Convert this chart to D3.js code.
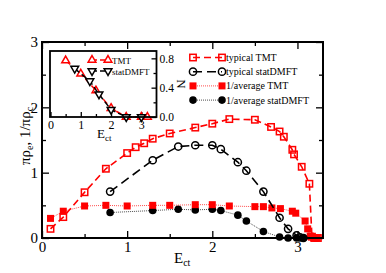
<!DOCTYPE html>
<html>
<head>
<meta charset="utf-8">
<script src="https://cdn.jsdelivr.net/npm/d3@7"></script>
<style>
  body { margin: 0; background: #fff; }
  .axis path { display: none; }
  .axis line { stroke: #000; stroke-width: 1.3; }
</style>
</head>
<body>
<div id="chart"></div>
<script>
// main panel data
var typTMT_E = [0.10, 0.25, 0.50, 0.75, 1.00, 1.10, 1.20, 1.30, 1.50, 1.80, 2.00, 2.20, 2.50, 2.69, 2.79, 2.84, 2.94, 2.96, 3.05, 3.14, 3.17, 3.20, 3.24];
var typTMT_v = [0.14, 0.32, 0.70, 1.06, 1.30, 1.39, 1.45, 1.52, 1.60, 1.69, 1.75, 1.82, 1.81, 1.70, 1.63, 1.55, 1.35, 1.28, 1.09, 0.83, 0.02, 0.00, 0.00];

var typDMFT_E = [0.80, 1.30, 1.60, 1.80, 2.00, 2.10, 2.30, 2.40, 2.60, 2.79, 2.89, 2.99, 3.03, 3.07];
var typDMFT_v = [0.71, 1.19, 1.40, 1.42, 1.42, 1.36, 1.16, 1.03, 0.71, 0.31, 0.14, 0.04, 0.01, 0.00];

var avgTMT_E = [0.10, 0.25, 0.50, 0.75, 1.00, 1.30, 1.50, 1.80, 2.00, 2.20, 2.50, 2.60, 2.70, 2.80, 2.94, 2.98, 3.09, 3.12, 3.15, 3.19, 3.23];
var avgTMT_v = [0.30, 0.41, 0.49, 0.50, 0.49, 0.50, 0.50, 0.51, 0.51, 0.49, 0.48, 0.48, 0.46, 0.45, 0.41, 0.38, 0.26, 0.14, 0.03, 0.00, 0.00];

var avgDMFT_E = [0.80, 1.30, 1.60, 1.80, 2.00, 2.10, 2.30, 2.40, 2.60, 2.79, 2.89, 2.99, 3.07];
var avgDMFT_v = [0.39, 0.42, 0.44, 0.43, 0.44, 0.42, 0.35, 0.26, 0.10, 0.015, 0.00, 0.00, 0.00];

// inset data
var insTMT_E = [0.5, 1.0, 1.5, 2.0, 2.5, 3.0, 3.2];
var insTMT_N = [0.77, 0.59, 0.36, 0.12, 0.0, 0.0, 0.0];
var insDMFT_E = [0.8, 1.3, 1.6, 2.0, 2.5, 3.0];
var insDMFT_N = [0.66, 0.49, 0.31, 0.10, 0.0, 0.0];

var mainXTicks = [0, 1, 2, 3];
var mainYTicks = [0, 1, 2, 3];
var insXTicks = [0, 1, 2, 3];
var insYTicks = [0, 0.4, 0.8];

var FONT = '"Liberation Serif", "Times New Roman", serif';

var W = 386, H = 273;
var svg = d3.select('#chart').append('svg')
  .attr('width', W)
  .attr('height', H)
  .attr('font-family', FONT);

function zip(a, b) { return a.map(function(d, i) { return [d, b[i]]; }); }

// draw one marker at (0,0) inside g
function marker(g, type, color) {
  if (type === 'osq') {
    g.append('rect').attr('x', -3.2).attr('y', -3.2).attr('width', 6.4).attr('height', 6.4)
      .attr('fill', 'none').attr('stroke', color).attr('stroke-width', 1.5);
  } else if (type === 'fsq') {
    g.append('rect').attr('x', -3.5).attr('y', -3.5).attr('width', 7).attr('height', 7)
      .attr('fill', color);
  } else if (type === 'ocirc') {
    g.append('circle').attr('r', 3.6).attr('fill', 'none').attr('stroke', color).attr('stroke-width', 1.5);
  } else if (type === 'fcirc') {
    g.append('circle').attr('r', 3.8).attr('fill', color);
  } else if (type === 'tri') {
    g.append('path').attr('d', d3.symbol(d3.symbolTriangle, 26)())
      .attr('fill', '#fff').attr('stroke', color).attr('stroke-width', 1.5);
  } else if (type === 'dtri') {
    g.append('path').attr('d', d3.symbol(d3.symbolTriangle, 26)())
      .attr('transform', 'rotate(180)')
      .attr('fill', '#fff').attr('stroke', color).attr('stroke-width', 1.5);
  }
}

function series(g, x, y, pts, s) {
  var line = d3.line().x(function(d) { return x(d[0]); }).y(function(d) { return y(d[1]); });
  g.append('path').datum(pts)
    .attr('d', line)
    .attr('fill', 'none')
    .attr('stroke', s.color)
    .attr('stroke-width', s.width)
    .attr('stroke-dasharray', s.dash);
  pts.forEach(function(d) {
    var m = g.append('g').attr('transform', 'translate(' + x(d[0]) + ',' + y(d[1]) + ')');
    marker(m, s.marker, s.color);
  });
}

// axis helper: ticks drawn inward, labels in the serif font
function axis(g, gen, tr, size) {
  var a = g.append('g').attr('class', 'axis').attr('transform', tr).call(gen);
  a.attr('font-family', FONT).attr('font-size', size || 14);
  return a;
}

// ---- main panel ----
var x = d3.scaleLinear().domain([0, 3.3]).range([42, 323]);
var y = d3.scaleLinear().domain([0, 3]).range([238, 42]);

var main = svg.append('g');

var minorX = [0.5, 1.5, 2.5], minorY = [0.5, 1.5, 2.5];
axis(main, d3.axisBottom(x).tickValues(minorX).tickSize(-4).tickFormat(''), 'translate(0,238)');
axis(main, d3.axisTop(x).tickValues(minorX).tickSize(-4).tickFormat(''), 'translate(0,42)');
axis(main, d3.axisLeft(y).tickValues(minorY).tickSize(-4).tickFormat(''), 'translate(42,0)');
axis(main, d3.axisRight(y).tickValues(minorY).tickSize(-4).tickFormat(''), 'translate(323,0)');
axis(main, d3.axisBottom(x).tickValues(mainXTicks).tickSize(-7).tickPadding(3).tickFormat(d3.format('d')), 'translate(0,238)', 15);
axis(main, d3.axisTop(x).tickValues(mainXTicks).tickSize(-7).tickFormat(''), 'translate(0,42)');
axis(main, d3.axisLeft(y).tickValues(mainYTicks).tickSize(-7).tickPadding(4).tickFormat(d3.format('d')), 'translate(42,0)', 15);
axis(main, d3.axisRight(y).tickValues(mainYTicks).tickSize(-7).tickFormat(''), 'translate(323,0)');

var sTypTMT = { color: '#ff0000', width: 1.6, dash: '7,4', marker: 'osq' };
var sTypDMFT = { color: '#000', width: 1.6, dash: '9,5', marker: 'ocirc' };
var sAvgTMT = { color: '#ff0000', width: 0.7, dash: '1,1', marker: 'fsq' };
var sAvgDMFT = { color: '#000', width: 0.7, dash: '1,1', marker: 'fcirc' };

series(main, x, y, zip(avgDMFT_E, avgDMFT_v), sAvgDMFT);
series(main, x, y, zip(avgTMT_E, avgTMT_v), sAvgTMT);
series(main, x, y, zip(typDMFT_E, typDMFT_v), sTypDMFT);
series(main, x, y, zip(typTMT_E, typTMT_v), sTypTMT);

main.append('rect')
  .attr('x', 42).attr('y', 42).attr('width', 281).attr('height', 196)
  .attr('fill', 'none').attr('stroke', '#000').attr('stroke-width', 2);

// axis titles
var xl = main.append('text').attr('x', 174).attr('y', 263).attr('font-size', 15);
xl.append('tspan').text('E');
xl.append('tspan').attr('font-size', 10).attr('dy', 3).text('ct');

var yl = main.append('text')
  .attr('transform', 'translate(30,136) rotate(-90)')
  .attr('text-anchor', 'middle')
  .attr('font-size', 15);
yl.append('tspan').text('πρ');
yl.append('tspan').attr('font-size', 10).attr('dy', 3).text('e');
yl.append('tspan').attr('dy', -3).text(', 1/πρ');
yl.append('tspan').attr('font-size', 10).attr('dy', 3).text('c');

// main legend
var legendItems = [
  { label: 'typical TMT', s: sTypTMT },
  { label: 'typical statDMFT', s: sTypDMFT },
  { label: '1/average TMT', s: sAvgTMT },
  { label: '1/average statDMFT', s: sAvgDMFT }
];
legendItems.forEach(function(it, i) {
  var ly = 57.5 + i * 14.2;
  var g = main.append('g');
  g.append('line').attr('x1', 193).attr('x2', 222).attr('y1', ly).attr('y2', ly)
    .attr('stroke', it.s.color).attr('stroke-width', it.s.width).attr('stroke-dasharray', it.s.dash);
  marker(g.append('g').attr('transform', 'translate(193,' + ly + ')'), it.s.marker, it.s.color);
  marker(g.append('g').attr('transform', 'translate(222,' + ly + ')'), it.s.marker, it.s.color);
  g.append('text').attr('x', 226).attr('y', ly + 3.5).attr('font-size', 10).text(it.label);
});

// ---- inset ----
var ix = d3.scaleLinear().domain([0, 3.5]).range([50.5, 156.5]);
var iy = d3.scaleLinear().domain([0, 0.9]).range([117, 51]);
var inset = svg.append('g');

inset.append('rect')
  .attr('x', 50).attr('y', 51).attr('width', 107).attr('height', 66)
  .attr('fill', '#fff');

axis(inset, d3.axisBottom(ix).tickValues([0.5, 1.5, 2.5]).tickSize(-3).tickFormat(''), 'translate(0,117)');
axis(inset, d3.axisBottom(ix).tickValues(insXTicks).tickSize(-5).tickPadding(3).tickFormat(d3.format('d')), 'translate(0,117)', 12);
axis(inset, d3.axisLeft(iy).tickValues([0.2, 0.6]).tickSize(3).tickFormat(''), 'translate(156.5,0)');
axis(inset, d3.axisLeft(iy).tickValues(insYTicks).tickSize(5).tickFormat(''), 'translate(156.5,0)');
axis(inset, d3.axisRight(iy).tickValues(insYTicks).tickSize(0).tickPadding(3).tickFormat(d3.format('.1f')), 'translate(156.5,0)', 11.5);

var sInsTMT = { color: '#ff0000', width: 1.5, dash: '6,3', marker: 'tri' };
var sInsDMFT = { color: '#000', width: 1.5, dash: '6,3', marker: 'dtri' };
series(inset, ix, iy, zip(insTMT_E, insTMT_N), sInsTMT);
series(inset, ix, iy, zip(insDMFT_E, insDMFT_N), sInsDMFT);

inset.append('rect')
  .attr('x', 50).attr('y', 51).attr('width', 106.5).attr('height', 66)
  .attr('fill', 'none').attr('stroke', '#000').attr('stroke-width', 1.8);

var ixl = inset.append('text').attr('x', 97).attr('y', 138).attr('font-size', 13);
ixl.append('tspan').text('E');
ixl.append('tspan').attr('font-size', 9).attr('dy', 3).text('ct');

inset.append('text')
  .attr('transform', 'translate(177,84) rotate(90)')
  .attr('text-anchor', 'middle')
  .attr('font-size', 13)
  .text('N');

var insLegend = [
  { label: 'TMT', s: sInsTMT },
  { label: 'statDMFT', s: sInsDMFT }
];
insLegend.forEach(function(it, i) {
  var ly = 60 + i * 11;
  var g = inset.append('g');
  g.append('line').attr('x1', 92).attr('x2', 108).attr('y1', ly).attr('y2', ly)
    .attr('stroke', it.s.color).attr('stroke-width', it.s.width).attr('stroke-dasharray', '5,3');
  marker(g.append('g').attr('transform', 'translate(92,' + ly + ')'), it.s.marker, it.s.color);
  marker(g.append('g').attr('transform', 'translate(108,' + ly + ')'), it.s.marker, it.s.color);
  g.append('text').attr('x', 112).attr('y', ly + 3.5).attr('font-size', 9).text(it.label);
});
</script>
</body>
</html>
